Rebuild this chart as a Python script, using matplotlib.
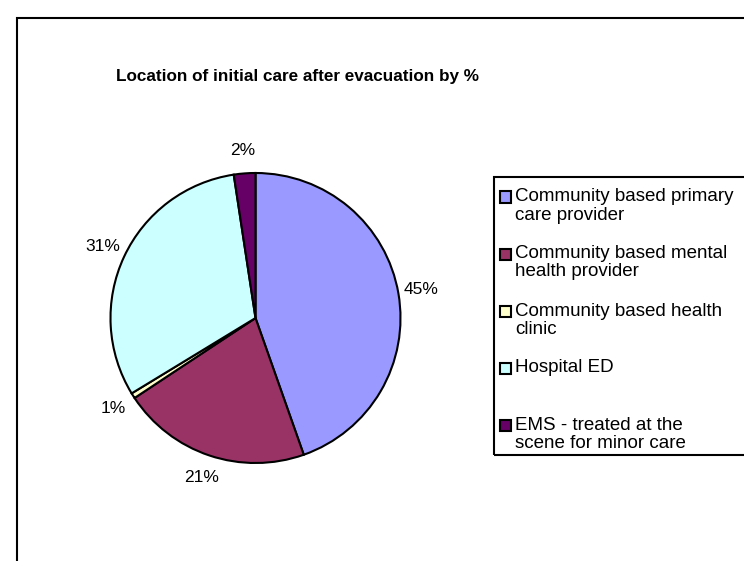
import matplotlib
matplotlib.use("Agg")
import matplotlib.pyplot as plt
from matplotlib.patches import Rectangle

plt.rcParams['font.family'] = ['Liberation Sans', 'DejaVu Sans']

# Data: location of initial care after evacuation (%)
categories = ["Community based primary\ncare provider",
              "Community based mental\nhealth provider",
              "Community based health\nclinic",
              "Hospital ED",
              "EMS - treated at the\nscene for minor care"]
shares = [44.6, 21.1, 0.6, 31.3, 2.4]
colors = ["#9999FF", "#993366", "#FFFFCC", "#CCFFFF", "#660066"]

W, H = 744, 561
fig = plt.figure(figsize=(W / 100, H / 100), dpi=100)


def fx(x):
    return x / W


def fy(y):
    return 1 - y / H


# outer chart frame (right / bottom edges fall outside the picture)
fig.add_artist(Rectangle((fx(17), fy(600)), fx(800), (600 - 18) / H,
                         transform=fig.transFigure, fill=False,
                         edgecolor="black", linewidth=1.5))

fig.text(fx(298), fy(77), "Location of initial care after evacuation by %",
         ha="center", va="center", fontsize=12.3, fontweight="bold")

# pie: centre (255, 318) px, radius 145 px
cx, cy, r, half = 255.5, 318, 145, 200
ax = fig.add_axes([fx(cx - half), (H - cy - half) / H, 2 * half / W, 2 * half / H])
ax.pie(shares, colors=colors, startangle=90, counterclock=False,
       autopct="%1.0f%%", pctdistance=1.16,
       wedgeprops=dict(edgecolor="black", linewidth=1.5),
       textprops=dict(fontsize=12.5, color="black"))
lim = half / r
ax.set_xlim(-lim, lim)
ax.set_ylim(-lim, lim)
ax.set_aspect("equal")
ax.axis("off")

# legend box
fig.add_artist(Rectangle((fx(494), fy(455)), fx(400), (455 - 177) / H,
                         transform=fig.transFigure, fill=False,
                         edgecolor="black", linewidth=1.5))
y0, pitch, line = 197, 57, 18
for i, (lab, col) in enumerate(zip(categories, colors)):
    y = y0 + i * pitch
    fig.add_artist(Rectangle((fx(500), fy(y + 5.5)), fx(11), 11 / H,
                             transform=fig.transFigure, facecolor=col,
                             edgecolor="black", linewidth=1.5))
    for j, part in enumerate(lab.split("\n")):
        fig.text(fx(515), fy(y + j * line), part, ha="left", va="center",
                 fontsize=13.5)

fig.savefig("out.png", dpi=100)
